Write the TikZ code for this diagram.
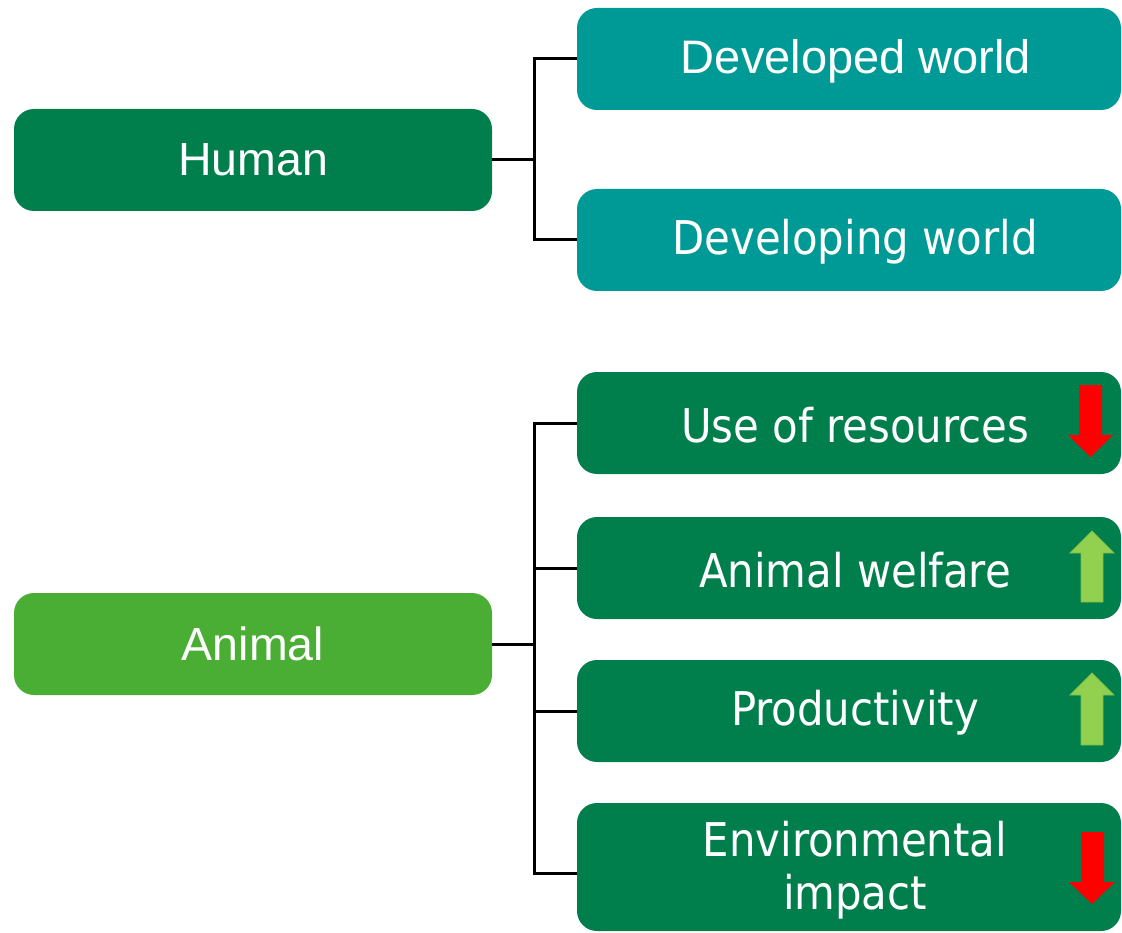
\documentclass[tikz,border=0pt]{standalone}
\usepackage{fontspec}
\setmainfont{Liberation Sans}
\newfontfamily\condfont{DejaVu Sans Condensed}
\usetikzlibrary{calc}
\definecolor{darkgreen}{HTML}{007E4C}
\definecolor{tealbox}{HTML}{009A96}
\definecolor{lightgreen}{HTML}{4AAE35}
\definecolor{uparrow}{HTML}{92D050}
\definecolor{uparrowedge}{HTML}{7DBE45}
\definecolor{downarrow}{HTML}{FF0000}
\begin{document}
\begin{tikzpicture}[x=1pt,y=-1pt,
  box/.style={rounded corners=20pt, minimum width=478pt, minimum height=102pt,
    inner sep=0pt, text=white, font=\fontsize{46.5}{53}\selectfont},
  sidebox/.style={rounded corners=20pt, minimum width=544pt, minimum height=102pt,
    inner sep=0pt, fill=darkgreen},
  label/.style={text=white, align=center, inner sep=0pt,
    font=\condfont\fontsize{46.5}{53}\selectfont},
  conn/.style={draw=black, line width=3pt},
  uparr/.style={fill=uparrow, draw=uparrowedge, line width=0.8pt},
  downarr/.style={fill=downarrow}]
\useasboundingbox (0,0) rectangle (1122,933);

% group heads
\node[box, fill=darkgreen] (human) at (253,160) {Human};
\node[box, fill=lightgreen] (animal) at (253,644) {Animal};

% human branches
\node[sidebox, fill=tealbox] (dev) at (849,59) {};
\node[text=white, inner sep=0pt, font=\fontsize{47}{53}\selectfont] (devt) at (856,61) {Developed world};
\node[sidebox, fill=tealbox] (deving) at (849,240) {};
\node[label] (devingt) at (855,242) {Developing world};

% animal branches
\node[sidebox] (res) at (849,423) {};
\node[label] (rest) at (855,425) {Use of resources};
\node[sidebox] (wel) at (849,568) {};
\node[label] (welt) at (855,570) {Animal welfare};
\node[sidebox] (prod) at (849,711) {};
\node[label] (prodt) at (855,713) {Productivity};
\node[sidebox, minimum height=128pt] (env) at (849,867) {};
\node[label] (envt) at (855,870) {Environmental\\impact};

% connectors
\coordinate (hbus) at (534,0);
\draw[conn] (human.east) -- (human.east -| hbus);
\draw[conn] (dev.west) -- (dev.west -| hbus) -- (deving.west -| hbus) -- (deving.west);
\draw[conn] (animal.east) -- (animal.east -| hbus);
\draw[conn] (res.west) -- (res.west -| hbus) -- ([yshift=-6pt]env.west -| hbus) -- ([yshift=-6pt]env.west);
\draw[conn] (wel.west) -- (wel.west -| hbus);
\draw[conn] (prod.west) -- (prod.west -| hbus);

% trend arrows
\fill[downarr] (1079,385) -- (1102,385) -- (1102,435) -- (1113,435) -- (1090.5,457)
  -- (1068,435) -- (1079,435) -- cycle;
\fill[downarr] (1081,832) -- (1104,832) -- (1104,882) -- (1115,882) -- (1092,904)
  -- (1069,882) -- (1081,882) -- cycle;
\draw[uparr] (1081,602) -- (1103,602) -- (1103,553) -- (1114,553) -- (1092,531)
  -- (1070,553) -- (1081,553) -- cycle;
\draw[uparr] (1081,745) -- (1103,745) -- (1103,695) -- (1114,695) -- (1092,673)
  -- (1070,695) -- (1081,695) -- cycle;
\end{tikzpicture}
\end{document}
